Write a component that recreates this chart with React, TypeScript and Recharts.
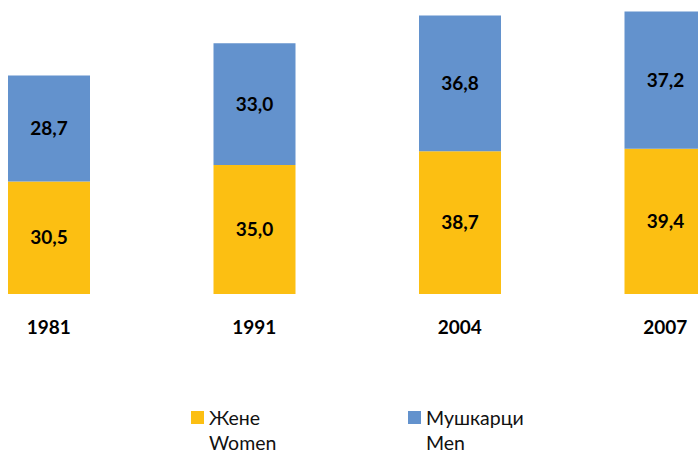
import { BarChart, Bar, XAxis, YAxis, LabelList } from "recharts"

const years = ["1981", "1991", "2004", "2007"]
const women = [30.5, 35.0, 38.7, 39.4]
const men = [28.7, 33.0, 36.8, 37.2]

const legendItems = [
  { sr: "Жене", en: "Women", color: "#FCBF12" },
  { sr: "Мушкарци", en: "Men", color: "#6392CD" },
]

const data = years.map((year, i) => ({ year, women: women[i], men: men[i] }))

const fmt = (v: any) => Number(v).toFixed(1).replace(".", ",")

const FONT = "Lato, 'Open Sans', sans-serif"

const YearTick = ({ x, y, payload }: any) => (
  <text x={x} y={y + 32} textAnchor="middle" fontFamily={FONT} fontWeight={700} fontSize={19} fill="#000">
    {payload.value}
  </text>
)

export default function App() {
  return (
    <div
      style={{
        position: "fixed",
        left: 0,
        top: 0,
        width: 698,
        height: 453,
        overflow: "hidden",
        background: "#fff",
        fontFamily: FONT,
      }}
    >
      <div style={{ position: "absolute", left: -54, top: 0 }}>
        <BarChart width={822} height={360} data={data} margin={{ top: 0, right: 0, bottom: 0, left: 0 }}>
          <XAxis dataKey="year" axisLine={false} tickLine={false} tick={<YearTick />} height={66} interval={0} />
          <YAxis hide domain={[0, 79.7]} />
          <Bar dataKey="women" stackId="a" fill="#FCBF12" barSize={82} isAnimationActive={false}>
            <LabelList dataKey="women" position="center" formatter={fmt} fill="#000" fontWeight={700} fontSize={19} fontFamily={FONT} />
          </Bar>
          <Bar dataKey="men" stackId="a" fill="#6392CD" barSize={82} isAnimationActive={false}>
            <LabelList dataKey="men" position="center" formatter={fmt} fill="#000" fontWeight={700} fontSize={19} fontFamily={FONT} />
          </Bar>
        </BarChart>
      </div>
      {legendItems.map((item, i) => (
        <div
          key={item.en}
          style={{ position: "absolute", left: 191 + i * 217, top: 408, display: "flex", alignItems: "flex-start" }}
        >
          <div style={{ width: 13, height: 13, background: item.color, marginTop: 3, marginRight: 5 }} />
          <div style={{ fontSize: 19.5, lineHeight: "20px", color: "#111" }}>
            <div>{item.sr}</div>
            <div style={{ marginTop: 5 }}>{item.en}</div>
          </div>
        </div>
      ))}
    </div>
  )
}
